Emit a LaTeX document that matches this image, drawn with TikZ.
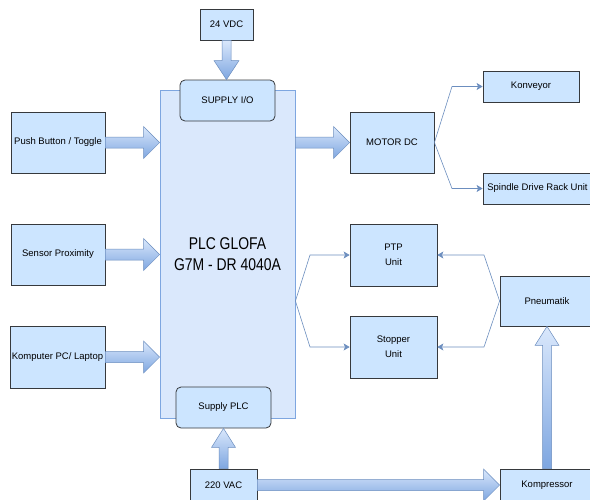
\documentclass[tikz,border=0pt]{standalone}
\usepackage{fontspec}
\setmainfont{Liberation Sans}
\usetikzlibrary{arrows.meta,calc}
\definecolor{boxfill}{HTML}{CCE5FF}
\definecolor{boxline}{HTML}{36393D}
\definecolor{plcfill}{HTML}{DAE8FC}
\definecolor{plcline}{HTML}{7EA6E0}
\definecolor{arrlight}{HTML}{DAE8FC}
\definecolor{arrdark}{HTML}{7EA6E0}
\definecolor{arrline}{HTML}{6C8EBF}
\newcommand{\harr}[2]{%
  \path[barrow] let \p1=#1, \p2=#2 in
    (\x1,\y1+5.5pt) -- (\x2-16pt,\y1+5.5pt) -- (\x2-16pt,\y1+16pt) -- (\x2,\y1)
    -- (\x2-16pt,\y1-16pt) -- (\x2-16pt,\y1-5.5pt) -- (\x1,\y1-5.5pt) -- cycle;}
\newcommand{\vdown}[2]{%
  \path[barrow] let \p1=#1, \p2=#2 in
    (\x1-4.5pt,\y1) -- (\x1-4.5pt,\y2+19pt) -- (\x1-12.5pt,\y2+19pt) -- (\x1,\y2)
    -- (\x1+12.5pt,\y2+19pt) -- (\x1+4.5pt,\y2+19pt) -- (\x1+4.5pt,\y1) -- cycle;}
\newcommand{\vup}[2]{%
  \path[barrow] let \p1=#1, \p2=#2 in
    (\x1-4.5pt,\y1) -- (\x1-4.5pt,\y2-19pt) -- (\x1-12pt,\y2-19pt) -- (\x1,\y2)
    -- (\x1+12pt,\y2-19pt) -- (\x1+4.5pt,\y2-19pt) -- (\x1+4.5pt,\y1) -- cycle;}
\newcommand{\nrw}[1]{\scalebox{0.82}[1]{#1}}
\begin{document}
\begin{tikzpicture}[x=1pt,y=-1pt,
  blk/.style={draw=boxline, fill=boxfill, line width=0.8pt, inner sep=0pt, align=center,
    font=\fontsize{9.5}{15}\selectfont},
  rblk/.style={blk, rounded corners=5pt},
  plcbox/.style={draw=plcline, fill=plcfill, line width=0.8pt, inner sep=0pt, align=center,
    font=\fontsize{17}{21}\selectfont},
  barrow/.style={draw=arrline, line width=0.5pt, top color=arrlight, bottom color=arrdark},
  conn/.style={draw=arrline, line width=0.6pt, -{Stealth[length=6pt,width=7pt,inset=1.5pt]}}]
\useasboundingbox (0,0) rectangle (590,499);
\fill[white] (0,0) rectangle (590,499);

\node[plcbox, minimum width=135pt, minimum height=328pt] (plc) at (227.5,254) {\nrw{PLC GLOFA}\\\nrw{G7M - DR 4040A}};
\node[rblk, minimum width=95pt, minimum height=41pt] (sio) at (227.5,100.5) {SUPPLY I/O};
\node[rblk, minimum width=95pt, minimum height=41pt] (spl) at (223.5,407.5) {Supply PLC};
\node[blk, minimum width=53pt, minimum height=31pt] (vdc) at (226.5,24.5) {24 VDC};

\node[blk, minimum width=94pt, minimum height=61pt] (pb) at (58,142.5) {Push Button / Toggle};
\node[blk, minimum width=94pt, minimum height=61pt] (sp) at (58,254.5) {Sensor Proximity};
\node[blk, minimum width=95pt, minimum height=62pt] (pc) at (57.5,357) {Komputer PC/ Laptop};

\node[blk, minimum width=84pt, minimum height=61pt] (motor) at (392,142.5) {MOTOR DC};
\node[blk, minimum width=96pt, minimum height=31pt] (konv) at (531,86.5) {Konveyor};
\node[blk, minimum width=109pt, minimum height=31pt] (spin) at (537.5,188.5) {Spindle Drive Rack Unit};

\node[blk, minimum width=87pt, minimum height=62pt] (ptp) at (393.5,255) {PTP\\Unit};
\node[blk, minimum width=87pt, minimum height=62pt] (stop) at (393.5,347) {Stopper\\Unit};
\node[blk, minimum width=94pt, minimum height=50pt] (pneu) at (547,301) {Pneumatik};
\node[blk, minimum width=94pt, minimum height=32pt] (komp) at (547,485) {Kompressor};
\node[blk, minimum width=67pt, minimum height=32pt] (vac) at (223.5,485) {220 VAC};

% block arrows
\harr{(pb.east)}{(pb.east -| plc.west)}
\harr{(sp.east)}{(sp.east -| plc.west)}
\harr{(pc.east)}{(pc.east -| plc.west)}
\harr{(plc.east |- motor.west)}{(motor.west)}
\harr{(vac.east)}{(komp.west)}
\vdown{(vdc.south)}{(sio.north)}
\vup{(vac.north)}{(spl.south)}
\vup{(komp.north)}{(pneu.south)}

% thin connectors
\draw[conn] (motor.east) -- (452,86.5) -- (konv.west);
\draw[conn] (motor.east) -- (452,188.5) -- (spin.west);
\coordinate (plcr) at (plc.east |- pneu.west);
\draw[conn] (plcr) -- (310,255) -- (ptp.west);
\draw[conn] (plcr) -- (310,347) -- (stop.west);
\draw[conn] (pneu.west) -- (484,255) -- (ptp.east);
\draw[conn] (pneu.west) -- (484,347) -- (stop.east);
\end{tikzpicture}
\end{document}
